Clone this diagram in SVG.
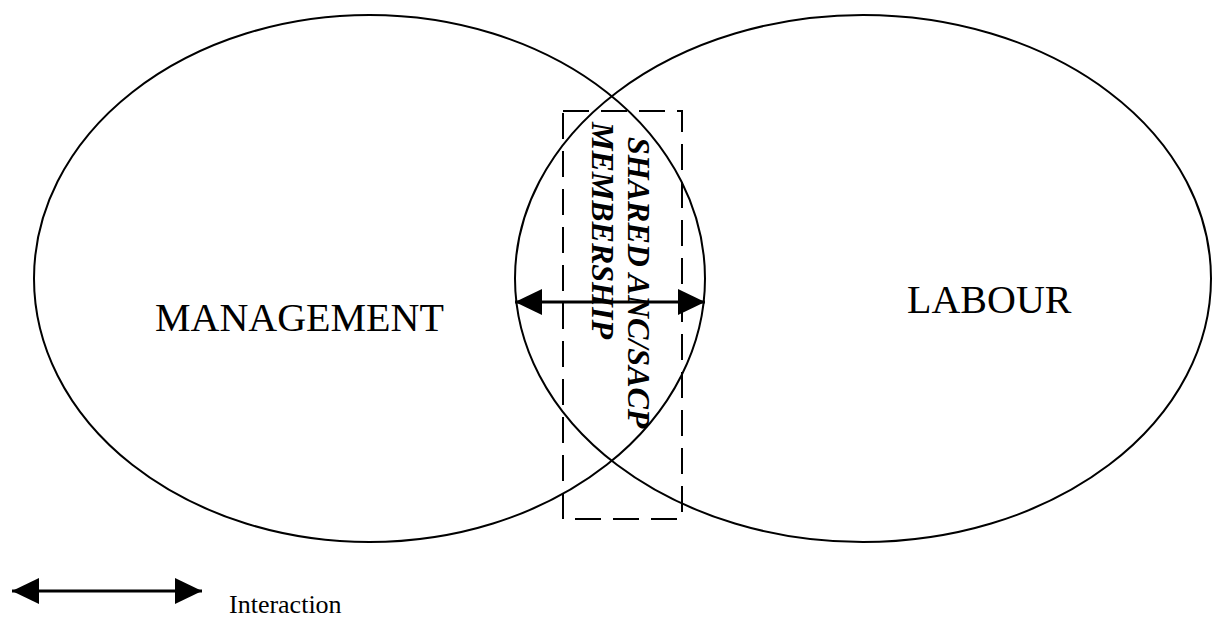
<svg xmlns="http://www.w3.org/2000/svg" width="1218" height="617" viewBox="0 0 1218 617">
<style>
.ell{fill:none;stroke:#000;stroke-width:2}
.lbl{font-family:"Liberation Serif","Times New Roman",serif;fill:#000}
.big{font-size:40px}
.vert{font-size:32px;font-weight:bold;font-style:italic}
.arr{stroke:#000;stroke-width:3;fill:none}
</style>
<defs>
<marker id="ah" markerWidth="10" markerHeight="10" refX="9" refY="5" orient="auto-start-reverse" markerUnits="userSpaceOnUse" viewBox="0 0 10 10" >
<path d="M0,0 L10,5 L0,10 Z" fill="#000"/>
</marker>
</defs>
<g id="management">
<ellipse class="ell" cx="369.5" cy="278.5" rx="335.5" ry="263.5"/>
<text class="lbl big" x="155" y="331">MANAGEMENT</text>
</g>
<g id="labour">
<ellipse class="ell" cx="863" cy="278.5" rx="348" ry="263.5"/>
<text class="lbl big" x="907" y="313">LABOUR</text>
</g>
<g id="shared">
<rect x="563" y="111" width="119" height="408" fill="none" stroke="#000" stroke-width="2" stroke-dasharray="26 12"/>
<text class="lbl vert" transform="translate(628,137) rotate(90)">SHARED ANC/SACP</text>
<text class="lbl vert" transform="translate(592,122) rotate(90)">MEMBERSHIP</text>
</g>
<g id="connectors">
<line x1="515" y1="302" x2="705" y2="302" stroke="#000" stroke-width="3"/>
<path d="M515,302 L542,289 L542,315 Z" fill="#000"/>
<path d="M705,302 L678,289 L678,315 Z" fill="#000"/>
</g>
<g id="legend">
<line x1="12" y1="591" x2="202" y2="591" stroke="#000" stroke-width="3"/>
<path d="M12,591 L39,578 L39,604 Z" fill="#000"/>
<path d="M202,591 L175,578 L175,604 Z" fill="#000"/>
<text class="lbl" style="font-size:26px" x="229" y="613">Interaction</text>
</g>
</svg>
